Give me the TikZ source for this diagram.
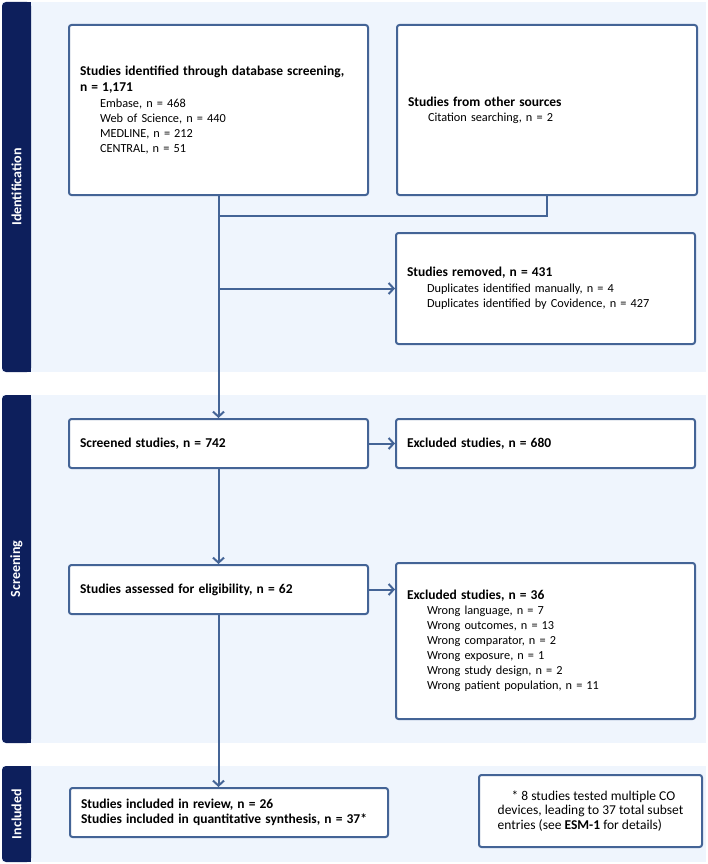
\documentclass[tikz,border=0pt]{standalone}
\usepackage{fontspec}
\setmainfont{Carlito}
\usetikzlibrary{arrows.meta}
\definecolor{prnavy}{RGB}{13,31,92}
\definecolor{prband}{RGB}{239,245,253}
\definecolor{prline}{RGB}{68,100,150}
\newcommand{\ind}{\hspace*{20pt}}
\newcommand{\prhead}[1]{{\fontsize{13.5}{15}\selectfont\bfseries #1}}
\tikzset{
  box/.style={draw=prline,line width=2pt,fill=white,rounded corners=2.5pt,
    inner xsep=11pt,inner ysep=0pt,align=left,font=\fontsize{12.3}{15}\selectfont},
  link/.style={draw=prline,line width=2pt},
  arr/.style={link,-{Straight Barb[length=5pt,width=11pt]}},
  band/.style={fill=prband},
  bar/.style={fill=prnavy},
  barlabel/.style={text=white,font=\fontsize{14}{15}\selectfont\bfseries,rotate=90}
}

\begin{document}
\begin{tikzpicture}[x=1pt,y=-1pt]
	\useasboundingbox (0,0) rectangle (708,864);
	\fill[band] (2,2) rectangle (706,372);
	\fill[band] (2,395) rectangle (706,743);
	\fill[band] (2,766) rectangle (706,862);
	\fill[bar,rounded corners=4pt] (2,2) rectangle (31,372);
	\fill[bar] (16,2) rectangle (31,372);
	\fill[bar,rounded corners=4pt] (2,395) rectangle (31,743);
	\fill[bar] (16,395) rectangle (31,743);
	\fill[bar,rounded corners=4pt] (2,766) rectangle (31,862);
	\fill[bar] (16,766) rectangle (31,862);
	\node[barlabel] (identlab) at (16.5,187) {Identification};
	\node[barlabel] (screenlab) at (16.5,569) {Screening};
	\node[barlabel] (inclab) at (16.5,814) {Included};
	\node[box,text width=277pt,minimum height=170pt] (dbase) at (218.5,110)
		{\prhead{Studies identified through database screening,}\\[1pt]\prhead{n = 1,171}\\[1pt]
		\ind Embase, n = 468\\\ind Web of Science, n = 440\\\ind MEDLINE, n = 212\\\ind CENTRAL, n = 51};
	\node[box,text width=278pt,minimum height=170pt] (other) at (547,110)
		{\prhead{Studies from other sources}\\\ind Citation searching, n = 2};
	\node[box,text width=277pt,minimum height=111pt] (removed) at (545.5,288.5)
		{\prhead{Studies removed, n = 431}\\[1pt]\ind Duplicates identified manually, n = 4\\
		\ind Duplicates identified by Covidence, n = 427};
	\node[box,text width=277pt,minimum height=49pt] (screen) at (218.5,443.5)
		{\prhead{Screened studies, n = 742}};
	\node[box,text width=277pt,minimum height=49pt] (excla) at (545.5,443.5)
		{\prhead{Excluded studies, n = 680}};
	\node[box,text width=277pt,minimum height=49pt] (elig) at (218.5,589.5)
		{\prhead{Studies assessed for eligibility, n = 62}};
	\node[box,text width=277pt,minimum height=156pt] (exclb) at (545.5,641)
		{\prhead{Excluded studies, n = 36}\\\ind Wrong language, n = 7\\\ind Wrong outcomes, n = 13\\
		\ind Wrong comparator, n = 2\\\ind Wrong exposure, n = 1\\\ind Wrong study design, n = 2\\
		\ind Wrong patient population, n = 11};
	\node[box,text width=296pt,minimum height=49pt] (incl) at (229,812.5)
		{\prhead{Studies included in review, n = 26}\\\prhead{Studies included in quantitative synthesis, n = 37*}};
	\node[box,inner xsep=0pt,minimum width=223pt,minimum height=72pt,font=\fontsize{13.5}{14.5}\selectfont] (note) at (590.5,811)
		{\hspace*{14pt}* 8 studies tested multiple CO\\devices, leading to 37 total subset\\
		entries (see \textbf{ESM-1} for details)};
	\path (dbase.south) ++(0,20) coordinate (merge);
	\draw[link] (other.south) |- (merge);
	\draw[arr] (dbase.south) -- (screen.north);
	\draw[arr] (dbase.south |- removed.west) -- (removed.west);
	\draw[arr] (screen) -- (excla);
	\draw[arr] (screen) -- (elig);
	\draw[arr] (elig.east) -- (elig.east -| exclb.west);
	\draw[arr] (elig.south) -- (elig.south |- incl.north);
\end{tikzpicture}
\end{document}
